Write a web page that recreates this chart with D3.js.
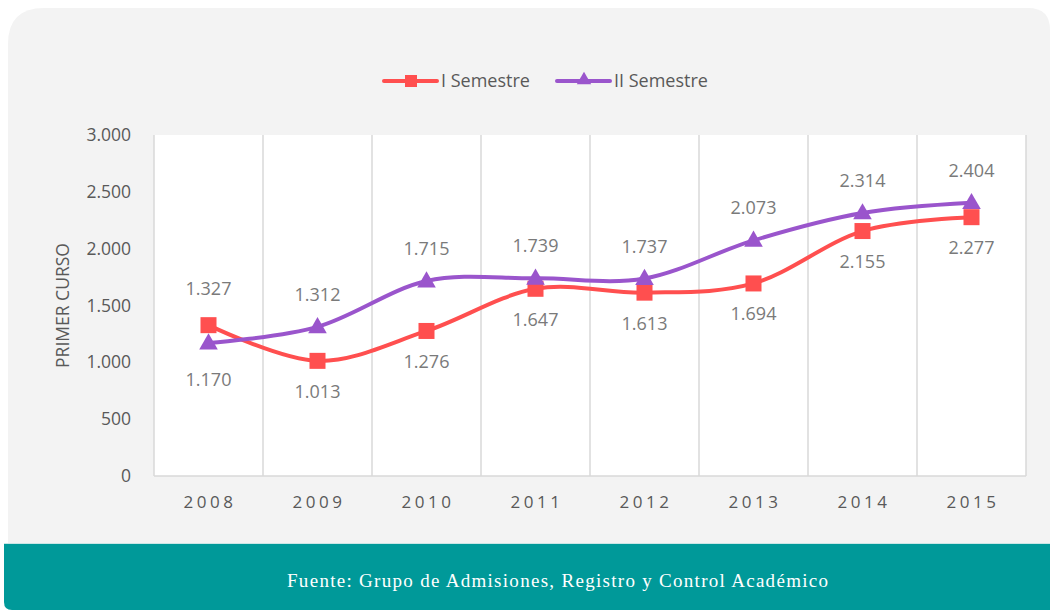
<!DOCTYPE html>
<html lang="es">
<head>
<meta charset="UTF-8">
<title>Primer curso</title>
<script src="https://d3js.org/d3.v7.min.js"></script>
<style>
  body { margin: 0; background: #fff; }
  text { font-family: "Open Sans", "Noto Sans", sans-serif; }
</style>
</head>
<body>
<div id="chart"></div>
<script>
// data
var years = ["2008", "2009", "2010", "2011", "2012", "2013", "2014", "2015"];
var sem1 = [1327, 1013, 1276, 1647, 1613, 1694, 2155, 2277];
var sem2 = [1170, 1312, 1715, 1739, 1737, 2073, 2314, 2404];
var sem1Labels = ["1.327", "1.013", "1.276", "1.647", "1.613", "1.694", "2.155", "2.277"];
var sem2Labels = ["1.170", "1.312", "1.715", "1.739", "1.737", "2.073", "2.314", "2.404"];
// +1 = label above point, -1 = below
var sem1Pos = [1, -1, -1, -1, -1, -1, -1, -1];
var sem2Pos = [-1, 1, 1, 1, 1, 1, 1, 1];
var yTicks = [0, 500, 1000, 1500, 2000, 2500, 3000];
var yTickLabels = ["0", "500", "1.000", "1.500", "2.000", "2.500", "3.000"];

var red = "#ff4f4f";
var purple = "#9a55cc";

var W = 1050, H = 610;
var plot = { left: 154, right: 1026, top: 135, bottom: 476 };

var svg = d3.select("#chart").append("svg")
  .attr("width", W).attr("height", H);

// panel background with rounded corners
svg.append("path")
  .attr("fill", "#f3f3f3")
  .attr("d", "M8,543 L8,44 Q8,8 44,8 L1028,8 Q1050,8 1050,30 L1050,543 Z");

// footer band
svg.append("path")
  .attr("fill", "#009999")
  .attr("d", "M4,543 L1050,543 L1050,610 L12,610 Q4,610 4,602 Z");
svg.append("line")
  .attr("x1", 4).attr("x2", 1050).attr("y1", 543.5).attr("y2", 543.5)
  .attr("stroke", "#c9e6e6").attr("stroke-width", 1);
svg.append("text")
  .attr("x", 287).attr("y", 587)
  .attr("fill", "#ffffff")
  .attr("textLength", 541)
  .attr("lengthAdjust", "spacing")
  .style("font-family", "'Liberation Serif', 'DejaVu Serif', serif")
  .style("font-size", "19px")
  .text("Fuente: Grupo de Admisiones, Registro y Control Académico");

var x = d3.scaleBand().domain(years).range([plot.left, plot.right]);
var y = d3.scaleLinear().domain([0, 3000]).range([plot.bottom, plot.top]);
var cx = function (i) { return x(years[i]) + x.bandwidth() / 2; };

// plot area
svg.append("rect")
  .attr("x", plot.left).attr("y", plot.top)
  .attr("width", plot.right - plot.left).attr("height", plot.bottom - plot.top)
  .attr("fill", "#ffffff");

// vertical grid lines at band boundaries
var bounds = years.map(function (d) { return x(d); }).concat([plot.right]);
svg.append("g").selectAll("line").data(bounds).join("line")
  .attr("x1", function (d) { return d; }).attr("x2", function (d) { return d; })
  .attr("y1", plot.top).attr("y2", plot.bottom)
  .attr("stroke", "#d9d9d9").attr("stroke-width", 1.5);

svg.append("line")
  .attr("x1", plot.left).attr("x2", plot.right)
  .attr("y1", plot.bottom).attr("y2", plot.bottom)
  .attr("stroke", "#d9d9d9").attr("stroke-width", 1.5);

// y axis
var yAxis = svg.append("g")
  .attr("transform", "translate(" + (plot.left - 20) + ",0)")
  .call(d3.axisLeft(y).tickValues(yTicks).tickSize(0)
    .tickFormat(function (d, i) { return yTickLabels[i]; }));
yAxis.select(".domain").remove();
yAxis.selectAll("text")
  .attr("fill", "#595959")
  .style("font-size", "17.5px")
  .style("font-family", "'Open Sans', sans-serif");

// x axis
var xAxis = svg.append("g")
  .attr("transform", "translate(0," + plot.bottom + ")")
  .call(d3.axisBottom(x).tickSize(0).tickPadding(20));
xAxis.select(".domain").remove();
xAxis.selectAll("text")
  .attr("fill", "#595959")
  .attr("dx", "1.5px")
  .style("font-size", "17px")
  .style("letter-spacing", "3.5px")
  .style("font-family", "'Open Sans', sans-serif");

// y title
svg.append("text")
  .attr("transform", "translate(69," + ((plot.top + plot.bottom) / 2) + ") rotate(-90)")
  .attr("text-anchor", "middle")
  .attr("fill", "#595959")
  .style("font-size", "17.5px")
  .text("PRIMER CURSO");

var line = d3.line()
  .curve(d3.curveCardinal.tension(0))
  .x(function (d, i) { return cx(i); })
  .y(function (d) { return y(d); });

var tri = d3.symbol().type(d3.symbolTriangle).size(150);

function drawSeries(vals, color, marker) {
  svg.append("path")
    .datum(vals)
    .attr("fill", "none")
    .attr("stroke", color)
    .attr("stroke-width", 4)
    .attr("stroke-linejoin", "round")
    .attr("stroke-linecap", "round")
    .attr("d", line);
  var g = svg.append("g");
  if (marker === "square") {
    g.selectAll("rect").data(vals).join("rect")
      .attr("x", function (d, i) { return cx(i) - 8; })
      .attr("y", function (d) { return y(d) - 8; })
      .attr("width", 16).attr("height", 16)
      .attr("fill", color);
  } else {
    g.selectAll("path").data(vals).join("path")
      .attr("transform", function (d, i) { return "translate(" + cx(i) + "," + (y(d) + 1) + ")"; })
      .attr("d", tri)
      .attr("fill", color);
  }
}

drawSeries(sem1, red, "square");
drawSeries(sem2, purple, "triangle");

function drawLabels(vals, labels, pos, above, below) {
  svg.append("g").selectAll("text").data(vals).join("text")
    .attr("x", function (d, i) { return cx(i); })
    .attr("y", function (d, i) { return pos[i] > 0 ? y(d) - above : y(d) + below; })
    .attr("text-anchor", "middle")
    .attr("fill", "#7a7a7a")
    .style("font-size", "18px")
    .text(function (d, i) { return labels[i]; });
}
drawLabels(sem1, sem1Labels, sem1Pos, 30, 37);
drawLabels(sem2, sem2Labels, sem2Pos, 26, 43);

// legend
var legend = [
  { name: "I Semestre", color: red, marker: "square", x: 384 },
  { name: "II Semestre", color: purple, marker: "triangle", x: 557 }
];
var lg = svg.append("g").selectAll("g").data(legend).join("g")
  .attr("transform", function (d) { return "translate(" + d.x + ",81)"; });
lg.append("line")
  .attr("x1", 0).attr("x2", 53).attr("y1", 0).attr("y2", 0)
  .attr("stroke", function (d) { return d.color; })
  .attr("stroke-width", 4)
  .attr("stroke-linecap", "round");
lg.each(function (d) {
  var g = d3.select(this);
  if (d.marker === "square") {
    g.append("rect").attr("x", 21).attr("y", -6).attr("width", 12).attr("height", 12).attr("fill", d.color);
  } else {
    g.append("path").attr("transform", "translate(27,-1)")
      .attr("d", d3.symbol().type(d3.symbolTriangle).size(90)).attr("fill", d.color);
  }
});
lg.append("text")
  .attr("x", 57).attr("y", 6)
  .attr("fill", "#595959")
  .style("font-size", "18px")
  .text(function (d) { return d.name; });
</script>
</body>
</html>
